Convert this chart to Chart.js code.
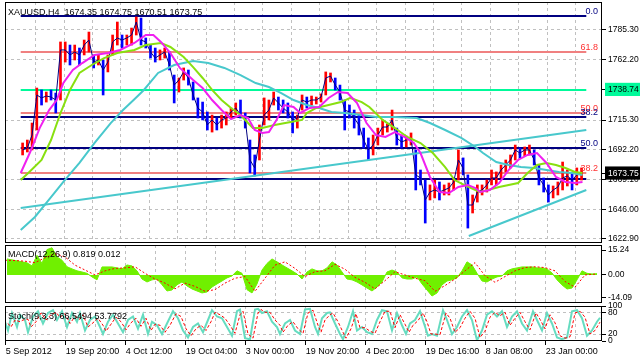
<!DOCTYPE html>
<html lang="en">
<head>
<meta charset="UTF-8">
<title>XAUUSD H4</title>
<script src="https://cdn.jsdelivr.net/npm/chart.js@4.4.1"></script>
<style>
  html,body{margin:0;padding:0;background:#fff;}
  #wrap{position:relative;width:640px;height:361px;overflow:hidden;background:#fff;}
  canvas{position:absolute;left:0;}
</style>
</head>
<body>
<div id="wrap">
  <canvas id="mainChart" width="640" height="250" style="top:0;width:640px;height:250px"></canvas>
  <canvas id="macdChart" width="640" height="72" style="top:238px;width:640px;height:72px"></canvas>
  <canvas id="stochChart" width="640" height="63" style="top:298px;width:640px;height:63px"></canvas>
</div>
<script>
// ---- price pane data (bar number ~ one H4 bar) ----
const barTimes=[7,12,17,22,27,32,37,42,47,52,57,62,67,72,77,82,87,92,97,102,107,112,117,122,127,132,137,142,147,152,157,162,167,172,177,182,187,192,197,202,207,212,217,222,227,232,237,242,247,252,257,262,267,272,277,282,287,292,297,302,307,312,317,322,327,332,337,342,347,352,357,362,367,372,377,382,387,392,397,402,407,412,417,422,427,432,437,442,447,452,457,462,467,472,477,482,487,492,497,502,507,512,517,522,527,532,537,542,547,552,557,562,567,572,577,582,587,592,597];
const barHigh=[1697.5,1699.8,1713.0,1740.2,1738.7,1737.1,1738.7,1736.3,1776.0,1776.0,
1773.6,1773.6,1771.3,1777.5,1783.7,1765.9,1765.9,1762.0,1765.9,1781.4,
1791.5,1781.4,1781.4,1786.8,1795.4,1794.6,1779.1,1773.6,1771.3,1769.8,
1771.3,1768.2,1750.3,1748.0,1755.8,1754.2,1744.9,1732.5,1729.3,1721.6,
1719.2,1716.9,1719.2,1721.6,1724.7,1728.6,1730.9,1720.8,1699.8,1688.2,
1711.5,1732.5,1730.9,1737.1,1733.2,1730.9,1728.6,1721.6,1719.2,1734.8,
1733.2,1734.0,1733.2,1735.6,1752.7,1751.9,1748.0,1742.5,1730.9,1727.0,
1723.1,1719.2,1709.1,1701.4,1703.7,1709.1,1715.4,1712.3,1723.1,1709.1,
1703.7,1702.9,1705.3,1692.1,1676.5,1668.7,1664.9,1668.7,1667.2,1664.9,
1666.4,1670.3,1692.1,1685.9,1672.7,1657.1,1664.9,1664.9,1668.7,1676.5,
1675.0,1680.4,1684.3,1688.2,1695.9,1693.6,1694.4,1695.9,1692.1,1680.4,
1670.3,1664.9,1664.1,1667.2,1682.7,1676.5,1674.2,1678.1,1678.1];
const barLow=[1688.2,1690.5,1692.1,1707.6,1727.0,1729.3,1730.9,1720.8,1730.9,1760.4,
1758.1,1762.0,1758.1,1765.9,1768.2,1755.8,1758.1,1734.8,1752.7,1765.9,
1773.6,1771.3,1773.6,1773.6,1781.4,1773.6,1771.3,1763.5,1760.4,1762.0,
1763.5,1754.2,1728.6,1737.1,1746.4,1742.5,1730.9,1716.9,1715.4,1707.6,
1706.0,1707.6,1709.1,1711.5,1716.9,1719.2,1716.9,1709.1,1674.2,1671.9,
1684.3,1711.5,1715.4,1727.0,1723.1,1720.8,1716.9,1705.3,1709.1,1723.1,
1724.7,1727.0,1727.8,1729.3,1734.8,1744.9,1738.7,1730.9,1707.6,1716.9,
1709.1,1703.7,1693.6,1684.3,1688.2,1695.9,1703.7,1706.0,1707.6,1695.9,
1693.6,1694.4,1695.9,1661.0,1664.9,1635.3,1653.2,1654.8,1653.2,1657.1,
1657.1,1661.0,1668.7,1672.7,1631.4,1643.1,1651.6,1657.1,1659.4,1664.9,
1664.9,1670.3,1675.0,1678.1,1684.3,1685.9,1687.4,1688.2,1680.4,1664.9,
1659.4,1651.6,1654.8,1657.1,1661.0,1664.1,1661.0,1664.9,1668.7];
const barClose=[1692.1,1693.6,1703.7,1734.8,1732.5,1734.0,1733.2,1730.9,1769.8,1769.8,
1765.9,1768.2,1765.9,1773.6,1777.5,1760.4,1762.0,1754.2,1760.4,1776.0,
1779.1,1777.5,1779.1,1781.4,1791.5,1777.5,1776.0,1768.2,1763.5,1765.9,
1768.2,1758.1,1742.5,1746.4,1752.7,1748.0,1734.8,1724.7,1721.6,1711.5,
1715.4,1711.5,1715.4,1716.9,1721.6,1724.7,1719.2,1715.4,1684.3,1678.1,
1699.8,1719.2,1723.1,1732.5,1728.6,1724.7,1721.6,1715.4,1716.9,1730.9,
1729.3,1730.9,1730.9,1733.2,1748.0,1749.5,1742.5,1737.1,1723.1,1721.6,
1716.9,1711.5,1699.8,1692.1,1695.9,1703.7,1709.9,1709.9,1715.4,1701.4,
1698.3,1699.8,1701.4,1672.7,1670.3,1653.2,1659.4,1661.0,1659.4,1661.0,
1662.5,1667.2,1684.3,1678.1,1649.3,1649.3,1659.4,1661.0,1664.9,1670.3,
1670.3,1676.5,1680.4,1684.3,1692.1,1689.7,1692.1,1692.1,1684.3,1670.3,
1664.9,1657.1,1661.0,1663.3,1670.3,1671.9,1668.7,1672.7,1673.75];

// moving averages: [bar, price]
const maMagenta=[[5,1674.2],[15,1690.5],[25,1709.1],[35,1723.1],[43,1730.9],[50,1744.1],[60,1754.2],[70,1759.6],[83,1765.9],[97,1767.4],[110,1769.8],[125,1775.2],[137,1781.4],[145,1781.4],[153,1776.0],[163,1767.4],[173,1755.8],[187,1746.4],[197,1740.2],[207,1730.9],[217,1723.1],[227,1716.0],[237,1719.2],[245,1716.9],[252,1707.6],[260,1705.3],[267,1706.0],[275,1715.4],[283,1727.0],[293,1725.5],[300,1720.8],[310,1724.7],[320,1725.5],[330,1732.5],[340,1737.1],[350,1736.3],[360,1728.6],[370,1713.0],[380,1703.7],[390,1702.2],[400,1706.0],[410,1702.2],[420,1697.5],[427,1689.7],[437,1671.1],[447,1659.4],[457,1658.6],[467,1663.3],[477,1664.9],[485,1662.5],[490,1659.4],[500,1661.0],[510,1666.4],[520,1676.5],[530,1684.3],[540,1688.2],[550,1689.7],[560,1682.0],[570,1671.1],[580,1667.2],[590,1666.4],[598,1667.2]];
const maGreen=[[5,1668.7],[13,1674.2],[27,1684.3],[37,1699.8],[47,1720.8],[57,1738.7],[67,1751.9],[80,1758.1],[93,1763.5],[107,1767.4],[125,1769.8],[137,1773.6],[153,1775.2],[163,1772.1],[177,1764.3],[187,1756.5],[197,1748.0],[207,1738.7],[217,1730.9],[227,1724.7],[237,1719.2],[245,1713.0],[250,1709.1],[260,1709.1],[273,1711.5],[290,1713.8],[302,1715.4],[307,1720.8],[317,1724.7],[330,1727.0],[343,1729.3],[353,1732.5],[365,1729.3],[373,1725.5],[387,1715.4],[400,1709.1],[413,1702.2],[427,1697.5],[440,1689.7],[453,1678.8],[463,1668.7],[473,1664.9],[485,1661.0],[490,1659.4],[510,1663.3],[530,1666.4],[540,1674.2],[550,1680.4],[560,1682.0],[570,1680.4],[580,1678.1],[590,1675.0],[598,1674.2]];
const maCyan=[[5,1629.9],[20,1640.0],[37,1655.5],[50,1667.2],[67,1682.0],[83,1697.5],[100,1713.0],[113,1723.1],[125,1731.5],[135,1738.7],[150,1751.9],[167,1758.1],[187,1761.2],[203,1759.6],[220,1755.8],[237,1750.3],[253,1744.1],[267,1741.0],[280,1736.3],[293,1730.9],[307,1727.0],[320,1724.7],[333,1721.6],[347,1720.8],[365,1719.2],[380,1717.7],[400,1717.7],[423,1716.9],[437,1713.0],[453,1707.6],[470,1701.4],[485,1694.4],[493,1689.7],[507,1682.7],[520,1680.4],[533,1678.8],[547,1678.1],[560,1676.5],[573,1675.0],[587,1674.2],[598,1672.7]];

// chart objects
const fibNavy=[['0.0',1796.2],['38.2',1717.7],['50.0',1693.6],['61.8',1669.5]];
const fibSalmon=[['61.8',1768.2],['50.0',1720.8],['38.2',1674.2]];
const hLevel=1738.74;
const lastPrice=1673.75;
const trendUpper=[[5,1647.0],[602,1707.6]];
const trendLower=[[478,1625.2],[602,1661.0]];
const priceTicks=[1785.30,1762.20,1715.30,1692.20,1669.10,1646.00,1622.90];

// time axis
const timeTicks=[5.7,35.7,65.7,95.7,125.7,155.7,185.7,215.7,245.7,275.7,305.7,335.7,365.7,395.7,425.7,455.7,485.7,515.7,545.7,575.7];
const timeText=['5 Sep 2012','','19 Sep 20:00','','4 Oct 12:00','','19 Oct 04:00','','3 Nov 00:00','','19 Nov 20:00','','4 Dec 20:00','','19 Dec 16:00','','8 Jan 08:00','','23 Jan 00:00',''];

// ---- MACD pane ----
const macdHist=[9.8,9.2,8.6,8.0,7.4,5.5,12.0,7.0,15.5,16.6,
11.0,9.0,5.0,3.7,2.5,1.8,1.0,-1.2,-3.0,4.9,
4.9,4.9,4.3,3.7,6.1,5.5,2.5,-2.5,-4.3,-3.0,
-2.5,-6.0,-9.8,-9.2,-6.0,-4.3,-6.7,-8.6,-9.8,-11.0,
-10.4,-7.4,-5.5,-3.7,-1.8,-0.6,2.5,1.0,-9.0,-11.0,
-5.5,3.0,7.0,9.8,8.0,6.1,4.3,2.5,0.6,-2.5,
1.8,3.7,2.5,2.5,4.3,8.0,6.1,1.8,-2.5,-3.0,
-4.3,-6.1,-8.0,-9.8,-7.4,-4.3,1.8,3.0,1.8,-1.8,
-2.5,-2.5,-1.2,-5.5,-9.2,-12.9,-11.0,-6.1,-3.7,-3.0,
-1.8,2.5,8.0,6.1,1.0,-3.7,-4.3,-2.5,-1.2,-0.6,
2.5,3.7,4.3,4.9,4.9,4.9,4.3,4.3,3.7,1.2,
-3.0,-6.1,-8.6,-8.0,-3.0,2.5,1.0,0.6,0.8];
const macdSignal=[[5,9],[15,8.8],[25,8.4],[35,7.5],[45,10.5],[55,13],[65,11],[75,6],[85,3],[95,0],[105,2.5],[115,4],[125,4.3],[135,5],[145,1],[155,-2.5],[165,-5],[175,-8.5],[185,-5],[195,-7],[205,-10],[215,-9],[225,-5],[235,-2],[245,-1],[255,-10],[265,-2],[275,6],[285,8],[295,4],[305,-1],[315,2],[325,2.5],[335,6.5],[345,3.5],[355,-1.5],[365,-4.5],[375,-8.5],[385,-3.5],[395,2],[405,0],[415,-2],[425,-3.5],[435,-10],[445,-6.5],[455,-2.5],[465,2.5],[475,7.5],[485,-0.5],[495,-4.5],[505,-1],[515,2.5],[525,4.5],[535,5],[545,4.5],[555,2.5],[565,-4],[575,-7.5],[585,0],[595,0.5]];
const macdTicks=[15.24,0,-14.09];

// ---- Stochastic pane ----
const stochMain=[[5,55],[8,30],[12,80],[17,40],[20,75],[25,60],[28,25],[33,70],[38,85],[43,50],[48,80],[53,88],[57,60],[62,85],[67,40],[72,80],[77,55],[80,80],[85,30],[90,60],[95,70],[100,40],[103,20],[108,55],[113,75],[118,50],[123,25],[128,60],[133,70],[138,35],[143,75],[148,20],[152,55],[157,45],[162,20],[167,50],[173,85],[178,65],[183,30],[188,10],[193,40],[198,50],[203,25],[208,60],[212,88],[217,70],[222,65],[227,40],[232,15],[237,85],[240,90],[245,8],[250,5],[255,90],[258,92],[262,80],[267,85],[272,55],[277,40],[280,20],[285,50],[290,60],[295,30],[300,20],[305,90],[310,92],[315,40],[318,20],[322,65],[327,80],[330,82],[335,50],[340,20],[343,5],[348,40],[353,85],[357,30],[362,40],[367,25],[372,20],[377,60],[382,88],[387,85],[392,30],[397,80],[402,45],[406,20],[410,50],[415,60],[420,85],[424,50],[428,15],[432,20],[437,15],[443,88],[447,60],[452,20],[457,40],[462,70],[467,88],[472,60],[477,2],[482,30],[487,75],[492,85],[497,70],[502,85],[507,40],[512,70],[517,85],[522,50],[527,30],[533,85],[537,60],[542,30],[547,80],[552,50],[557,10],[562,5],[567,10],[572,85],[577,88],[582,65],[587,15],[592,30],[597,55],[600,66.5]];
const stochSignal=[[8,50],[11,40],[15,60],[20,55],[23,60],[28,62],[31,40],[36,55],[41,80],[46,60],[51,75],[56,82],[60,68],[65,78],[70,50],[75,70],[80,62],[83,75],[88,40],[93,52],[98,65],[103,45],[106,28],[111,48],[116,68],[121,55],[126,32],[131,52],[136,65],[141,42],[146,65],[151,30],[155,48],[160,45],[165,25],[170,45],[176,78],[181,70],[186,35],[191,15],[196,35],[201,45],[206,30],[211,55],[215,82],[220,75],[225,65],[230,45],[235,22],[240,75],[243,85],[248,20],[253,8],[258,80],[261,90],[265,82],[270,82],[275,60],[280,45],[283,25],[288,45],[293,55],[298,35],[303,22],[308,80],[313,88],[318,45],[321,25],[325,60],[330,75],[333,80],[338,55],[343,25],[346,8],[351,35],[356,78],[360,38],[365,38],[370,28],[375,22],[380,55],[385,85],[390,85],[395,38],[400,75],[405,48],[409,25],[413,45],[418,58],[423,80],[427,55],[431,20],[435,20],[440,18],[446,80],[450,65],[455,25],[460,38],[465,65],[470,85],[475,65],[480,10],[485,28],[490,68],[495,82],[500,72],[505,82],[510,45],[515,65],[520,82],[525,55],[530,32],[536,80],[540,62],[545,35],[550,75],[555,52],[560,15],[565,8],[570,12],[575,80],[580,85],[585,68],[590,20],[595,30],[600,53.8]];
const stochTicks=[100,80,20,0];

const FONT='"Liberation Sans", Arial, sans-serif';
const GRID='#c0c0c0';

// pane frame + captions
const paneDecor={
  id:'paneDecor',
  afterDraw(chart,args,opts){
    const {ctx,chartArea:a}=chart;
    ctx.save();
    ctx.strokeStyle='#000';ctx.lineWidth=1;
    ctx.strokeRect(a.left+0.5,a.top+0.5,a.right-a.left-1,a.bottom-a.top-1);
    ctx.font='9px '+FONT;ctx.fillStyle='#000';ctx.textAlign='left';ctx.textBaseline='alphabetic';
    if(opts.caption) ctx.fillText(opts.caption,a.left+3,a.top+opts.capDy);
    if(opts.fib){
      const y=chart.scales.y;
      ctx.textAlign='right';
      fibSalmon.forEach(([t,v])=>{ctx.fillStyle='#ff3030';ctx.fillText(t,a.right-4,y.getPixelForValue(v)-2);});
      fibNavy.slice(0,3).forEach(([t,v])=>{ctx.fillStyle='#000080';ctx.fillText(t,a.right-4,y.getPixelForValue(v)-2);});
    }
    ctx.restore();
  }
};

function noPad(s){s.paddingTop=0;s.paddingBottom=0;s.paddingLeft=0;s.paddingRight=0;}
function xHidden(){
  return {type:'linear',min:5,max:602,
    ticks:{display:false},
    grid:{color:GRID,drawTicks:false},
    border:{display:false,dash:[3,3]},
    afterBuildTicks:s=>{s.ticks=timeTicks.slice(1).map(v=>({value:v}));},
    afterFit:s=>{s.height=0;noPad(s);}};
}
function yRight(ticks,extra){
  return Object.assign({position:'right',
    afterBuildTicks:s=>{s.ticks=ticks.map(v=>({value:v}));},
    afterFit:s=>{s.width=38;noPad(s);},
    border:{display:false,dash:[3,3]}},extra);
}
const hline=(v,color,w,order)=>({type:'line',data:[[5,v],[602,v]],borderColor:color,borderWidth:w,pointRadius:0,order});

// ---- main price chart ----
const isSpecial=v=>v===lastPrice||v===hLevel;
new Chart(document.getElementById('mainChart'),{
  type:'bar',
  data:{datasets:[
    hline(fibNavy[0][1],'#000080',2,20),hline(fibNavy[1][1],'#000080',2,20),hline(fibNavy[2][1],'#000080',2,20),hline(fibNavy[3][1],'#000080',2,20),
    hline(fibSalmon[0][1],'#f08080',2,20),hline(fibSalmon[1][1],'#f08080',2,20),hline(fibSalmon[2][1],'#f08080',2,20),
    hline(hLevel,'#00fa9a',2,19),
    {type:'bar',data:barTimes.map((t,i)=>({x:t,y:[barLow[i],barHigh[i]]})),barThickness:2,grouped:false,
      backgroundColor:c=>{const i=c.dataIndex;return i>0&&barClose[i]<barClose[i-1]?'#0000ff':'#ff0000';},order:10},
    {type:'line',data:barTimes.map((t,i)=>[t,barClose[i]]),borderColor:'#000080',borderWidth:1,pointRadius:0,order:6},
    {type:'line',data:trendUpper,borderColor:'#48c8cc',borderWidth:2,pointRadius:0,order:5},
    {type:'line',data:trendLower,borderColor:'#48c8cc',borderWidth:2,pointRadius:0,order:5},
    {type:'line',data:maCyan,borderColor:'#48c8cc',borderWidth:2,pointRadius:0,order:4},
    {type:'line',data:maGreen,borderColor:'#88e010',borderWidth:2,pointRadius:0,order:3},
    {type:'line',data:maMagenta,borderColor:'#f020f0',borderWidth:2,pointRadius:0,order:2}
  ]},
  options:{responsive:false,animation:false,devicePixelRatio:1,
    layout:{padding:{left:5,top:2,right:0,bottom:7}},
    plugins:{legend:{display:false},tooltip:{enabled:false},
      paneDecor:{caption:'XAUUSD,H4  1674.35 1674.75 1670.51 1673.75',capDy:13,fib:true}},
    scales:{
      x:xHidden(),
      y:yRight(priceTicks.concat([hLevel,lastPrice]),{min:1619.79,max:1807.05,
        grid:{color:c=>isSpecial(c.tick.value)?'rgba(0,0,0,0)':GRID,tickColor:'#000',tickLength:4},
        ticks:{autoSkip:false,padding:2,font:{family:FONT,size:8.5},
          color:c=>c.tick&&c.tick.value===lastPrice?'#fff':'#000',
          showLabelBackdrop:c=>!!(c.tick&&isSpecial(c.tick.value)),
          backdropColor:c=>c.tick&&c.tick.value===lastPrice?'#000':'#00fa9a',
          backdropPadding:{left:3,right:5,top:2,bottom:1},
          callback:v=>v.toFixed(2)}})
    }},
  plugins:[paneDecor]
});

// ---- MACD ----
new Chart(document.getElementById('macdChart'),{
  type:'line',
  data:{datasets:[
    {data:barTimes.map((t,i)=>[t,macdHist[i]]),fill:'origin',backgroundColor:'#70f000',borderColor:'#70f000',borderWidth:1,pointRadius:0,order:2},
    {data:macdSignal,borderColor:'#ff0000',borderWidth:1,borderDash:[2,2],pointRadius:0,order:1}
  ]},
  options:{responsive:false,animation:false,devicePixelRatio:1,
    layout:{padding:{left:5,top:7,right:0,bottom:7}},
    plugins:{legend:{display:false},tooltip:{enabled:false},
      paneDecor:{caption:'MACD(12,26,9) 0.819 0.012',capDy:12}},
    scales:{
      x:xHidden(),
      y:yRight(macdTicks,{min:-17.15,max:18.3,
        grid:{drawOnChartArea:false,tickColor:'#000',tickLength:4},
        ticks:{autoSkip:false,padding:2,color:'#000',font:{family:FONT,size:8.5},callback:v=>v.toFixed(2)}})
    }},
  plugins:[paneDecor]
});

// ---- Stochastic ----
new Chart(document.getElementById('stochChart'),{
  type:'line',
  data:{datasets:[
    {data:stochMain,borderColor:'#66dcc0',borderWidth:2,pointRadius:0,order:2},
    {data:stochSignal,borderColor:'#ff0000',borderWidth:1,borderDash:[3,2],pointRadius:0,order:1}
  ]},
  options:{responsive:false,animation:false,devicePixelRatio:1,
    layout:{padding:{left:5,top:8,right:0,bottom:0}},
    plugins:{legend:{display:false},tooltip:{enabled:false},
      paneDecor:{caption:'Stoch(9,3,3) 66.5494 53.7792',capDy:13}},
    scales:{
      x:{type:'linear',min:5,max:602,
        grid:{color:GRID,tickColor:c=>timeText[c.index]?'#000':'rgba(0,0,0,0)',tickLength:4},
        border:{display:false,dash:[3,3]},
        afterBuildTicks:s=>{s.ticks=timeTicks.map(v=>({value:v}));},
        afterFit:s=>{s.height=20;noPad(s);},
        ticks:{autoSkip:false,maxRotation:0,align:'start',padding:1,color:'#000',font:{family:FONT,size:9},
          callback:(v,i)=>timeText[i]}},
      y:yRight(stochTicks,{min:0,max:100,
        grid:{color:c=>(c.tick.value===20||c.tick.value===80)?GRID:'rgba(0,0,0,0)',tickColor:'#000',tickLength:4},
        ticks:{autoSkip:false,padding:2,color:'#000',font:{family:FONT,size:8.5},callback:v=>String(v)}})
    }},
  plugins:[paneDecor]
});
</script>
</body>
</html>
